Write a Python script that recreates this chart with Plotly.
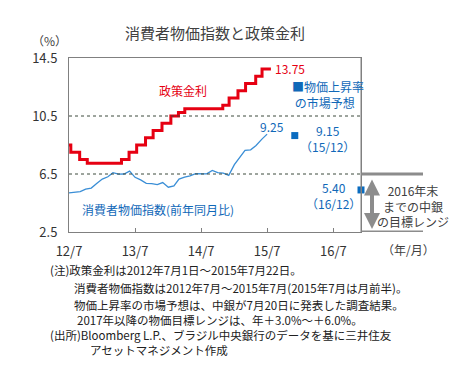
import plotly.graph_objects as go

# ---------------- data ----------------
policy_dates = ["2012-07-01", "2012-07-11", "2012-08-29", "2012-10-10", "2013-04-17",
                "2013-05-29", "2013-07-10", "2013-08-28", "2013-10-09", "2013-11-27",
                "2014-01-15", "2014-02-26", "2014-04-02", "2014-10-29", "2014-12-03",
                "2015-01-21", "2015-03-04", "2015-04-29", "2015-06-03", "2015-07-22"]
policy_rate = [8.5, 8.0, 7.5, 7.25, 7.5, 8.0, 8.5, 9.0, 9.5, 10.0,
               10.5, 10.75, 11.0, 11.25, 11.75, 12.25, 12.75, 13.25, 13.75, 13.75]

cpi_months = ["2012-07", "2012-08", "2012-09", "2012-10", "2012-11", "2012-12",
              "2013-01", "2013-02", "2013-03", "2013-04", "2013-05", "2013-06",
              "2013-07", "2013-08", "2013-09", "2013-10", "2013-11", "2013-12",
              "2014-01", "2014-02", "2014-03", "2014-04", "2014-05", "2014-06",
              "2014-07", "2014-08", "2014-09", "2014-10", "2014-11", "2014-12",
              "2015-01", "2015-02", "2015-03", "2015-04", "2015-05", "2015-06",
              "2015-07"]
cpi_yoy = [5.20, 5.24, 5.28, 5.45, 5.53, 5.84, 6.15, 6.31, 6.59, 6.49, 6.50, 6.70,
           6.27, 6.09, 5.86, 5.84, 5.77, 5.91, 5.59, 5.68, 6.15, 6.28, 6.37, 6.52,
           6.50, 6.51, 6.75, 6.59, 6.56, 6.41, 7.14, 7.70, 8.13, 8.17, 8.47, 8.89,
           9.25]

forecast_dates = ["2015-12", "2016-12"]
forecast_vals = [9.15, 5.40]
forecast_labels = ["9.15", "5.40"]
forecast_periods = ["（15/12）", "（16/12）"]

target_low, target_high = 2.5, 6.5

x_tickvals = ["2012-07-01", "2013-07-01", "2014-07-01", "2015-07-01", "2016-07-01"]
x_ticktext = ["12/7", "13/7", "14/7", "15/7", "16/7"]
y_tickvals = [2.5, 6.5, 10.5, 14.5]
y_ticktext = ["2.5", "6.5", "10.5", "14.5"]

notes = [
    "(注)政策金利は2012年7月1日～2015年7月22日。",
    "消費者物価指数は2012年7月～2015年7月(2015年7月は月前半)。",
    "物価上昇率の市場予想は、中銀が7月20日に発表した調査結果。",
    "2017年以降の物価目標レンジは、年＋3.0%～＋6.0%。",
    "(出所)Bloomberg L.P.、ブラジル中央銀行のデータを基に三井住友",
    "アセットマネジメント作成",
]

# ---------------- layout geometry ----------------
W, H = 452, 365
L, R, T, B = 69, 361, 58, 232
PW, PH = R - L, B - T


def px(x):
    return (x - L) / PW


def py(y):
    return (B - y) / PH


FONT = "Noto Sans CJK JP"
RED = "#e60012"
BLUE_LINE = "#3a8ed6"
BLUE_TXT = "#1068b8"
MARK = "#0a6cc0"
GRAY = "#404040"

fig = go.Figure()

fig.add_trace(go.Scatter(x=policy_dates, y=policy_rate, mode="lines",
                         line=dict(color=RED, width=3, shape="hv"),
                         hoverinfo="skip"))
fig.add_trace(go.Scatter(x=[m + "-01" for m in cpi_months], y=cpi_yoy, mode="lines",
                         line=dict(color=BLUE_LINE, width=1.3),
                         hoverinfo="skip"))
fig.add_trace(go.Scatter(x=[d + "-01" for d in forecast_dates], y=forecast_vals,
                         mode="markers", cliponaxis=False,
                         marker=dict(symbol="square", size=7, color=MARK),
                         hoverinfo="skip"))

shapes = []
for v in [6.5, 10.5]:
    shapes.append(dict(type="line", xref="paper", yref="y", x0=0, x1=1, y0=v, y1=v,
                       line=dict(color="#3d4a3d", width=1, dash="dot")))
for v in [target_low, target_high]:
    shapes.append(dict(type="line", xref="paper", yref="y", x0=1, x1=px(423), y0=v, y1=v,
                       line=dict(color="#8c8c8c", width=3)))
shapes.append(dict(type="line", xref="paper", yref="paper", x0=1, x1=1, y0=0, y1=1,
                   line=dict(color="#808080", width=1)))

annotations = []


def txt(text, x, y, size=12, color=GRAY, xanchor="center", yanchor="middle", align="center"):
    annotations.append(dict(text=text, xref="paper", yref="paper", x=px(x), y=py(y),
                            xanchor=xanchor, yanchor=yanchor, showarrow=False, align=align,
                            font=dict(family=FONT, size=size, color=color)))


txt("消費者物価指数と政策金利", 215, 33, size=15, color="#404040")
txt("（%）", 49, 40, size=12, color="#404040")
txt("（年/月）", 408, 249, size=12, color="#404040")

txt("政策金利", 183, 90, size=12, color=RED)
txt("13.75", 273, 68, size=12, color=RED, xanchor="left")
txt("消費者物価指数(前年同月比)", 80, 209, size=12, color=BLUE_TXT, xanchor="left")
txt("9.25", 272, 126, size=12, color=BLUE_TXT)
txt("■物価上昇率<br> の市場予想", 290, 94.5, size=12, color=BLUE_TXT,
    xanchor="left", align="left")

txt(forecast_labels[0] + "<br>" + forecast_periods[0], 327, 138.5, size=12, color=BLUE_TXT)
txt(forecast_labels[1] + "<br>" + forecast_periods[1], 333, 195, size=12, color=BLUE_TXT)

txt("2016年末<br>までの中銀<br>の目標レンジ", 413, 205.5, size=12)

annotations.append(dict(xref="paper", yref="paper", x=px(372), y=py(229),
                        ax=0, ay=-51, axref="pixel", ayref="pixel",
                        showarrow=True, arrowhead=2, arrowside="end+start",
                        arrowwidth=4, arrowsize=0.8, arrowcolor="#8c8c8c", text=""))

note_pos = [(48, 270), (72, 288), (72, 304.5), (75, 319.5), (48, 334.5), (88, 349.5)]
for t, (x, y) in zip(notes, note_pos):
    txt(t, x, y, size=11.5, color="#202020", xanchor="left")

fig.update_layout(
    width=W, height=H,
    margin=dict(l=L, r=W - R, t=T, b=H - B),
    paper_bgcolor="white", plot_bgcolor="white",
    showlegend=False,
    shapes=shapes, annotations=annotations,
    font=dict(family=FONT, color="#333333"),
)
fig.update_xaxes(type="date", range=["2012-07-01", "2016-12-01"],
                 tickvals=x_tickvals, ticktext=x_ticktext,
                 ticks="inside", ticklen=4, tickcolor="#808080",
                 showgrid=False, zeroline=False,
                 showline=True, linecolor="#808080", linewidth=1, mirror=True,
                 ticklabelstandoff=7,
                 tickfont=dict(size=13, color="#333333"))
fig.update_yaxes(range=[2.5, 14.5], tickvals=y_tickvals, ticktext=y_ticktext,
                 ticks="", showgrid=False, zeroline=False,
                 showline=True, linecolor="#808080", linewidth=1, mirror=True,
                 ticklabelstandoff=8,
                 tickfont=dict(size=13, color="#333333"))

fig.write_html("out.html", config={"displayModeBar": False},
               post_script="document.body.style.margin='0px';document.body.style.overflow='hidden';")
